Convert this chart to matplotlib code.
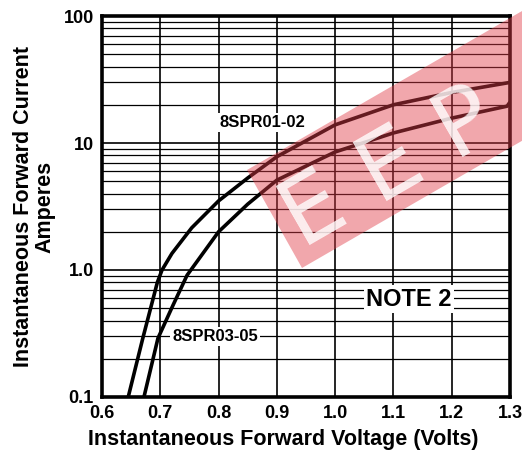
import matplotlib.pyplot as plt
from matplotlib.patches import Polygon

plt.rcParams['font.family'] = ['Liberation Sans', 'DejaVu Sans']
plt.rcParams['font.weight'] = 'bold'

# curve points
v_0102 = [0.645, 0.670, 0.695, 0.703, 0.720, 0.754, 0.800, 0.850, 0.900, 1.000, 1.100, 1.200, 1.300]
i_0102 = [0.1, 0.29, 0.8, 1.0, 1.35, 2.15, 3.5, 5.3, 7.8, 13.9, 20.0, 25.0, 30.0]

v_0305 = [0.672, 0.696, 0.722, 0.746, 0.800, 0.850, 0.900, 1.000, 1.100, 1.200, 1.295, 1.300]
i_0305 = [0.1, 0.29, 0.53, 0.91, 2.0, 3.3, 5.1, 8.5, 12.0, 15.7, 19.5, 21.0]

x_ticks = [0.6, 0.7, 0.8, 0.9, 1.0, 1.1, 1.2, 1.3]
x_labels = ['0.6', '0.7', '0.8', '0.9', '1.0', '1.1', '1.2', '1.3']
y_ticks = [0.1, 1, 10, 100]
y_labels = ['0.1', '1.0', '10', '100']

fig = plt.figure(figsize=(5.22, 4.55), dpi=100)
ax = fig.add_axes([0.1954, 0.1275, 0.7816, 0.8373])

ax.set_yscale('log')
ax.set_xlim(0.6, 1.3)
ax.set_ylim(0.1, 100)

ax.set_xticks(x_ticks)
ax.set_xticklabels(x_labels)
ax.set_yticks(y_ticks)
ax.set_yticklabels(y_labels)
ax.tick_params(length=0, labelsize=13, pad=6)
for lab in ax.get_xticklabels() + ax.get_yticklabels():
    lab.set_fontweight('bold')

ax.grid(True, which='major', color='black', linewidth=1.2)
ax.grid(True, which='minor', axis='y', color='black', linewidth=0.9)
ax.minorticks_on()
ax.xaxis.set_tick_params(which='minor', bottom=False)
ax.yaxis.set_tick_params(which='minor', left=False, labelleft=False)
ax.set_axisbelow(True)

for s in ax.spines.values():
    s.set_linewidth(2.6)

ax.plot(v_0102, i_0102, color='black', linewidth=2.6, solid_capstyle='butt')
ax.plot(v_0305, i_0305, color='black', linewidth=2.6, solid_capstyle='butt')

box = dict(facecolor='white', edgecolor='none', pad=1.5)
ax.text(0.8745, 14.4, '8SPR01-02', fontsize=12, fontweight='bold', ha='center', va='center', bbox=box)
ax.text(0.794, 0.30, '8SPR03-05', fontsize=12, fontweight='bold', ha='center', va='center', bbox=box)
ax.text(1.127, 0.59, 'NOTE 2', fontsize=17, fontweight='bold', ha='center', va='center', bbox=box)

ax.set_xlabel('Instantaneous Forward Voltage (Volts)', fontsize=15.5, fontweight='bold')
ax.xaxis.set_label_coords(0.444, -0.085)
ax.set_ylabel('Instantaneous Forward Current\nAmperes', fontsize=15.5, fontweight='bold', labelpad=6, linespacing=1.0)

# translucent red watermark band with light letters cut into it
W, H = 522, 455
def fp(x, y):
    return (x / W, 1 - y / H)
band = Polygon([fp(247, 170), fp(302, 268), fp(648, 68), fp(593, -30)], closed=True,
               transform=fig.transFigure, facecolor='#e03c48', alpha=0.45, edgecolor='none', zorder=10)
fig.patches.append(band)
wm_letters = ['E', 'E', 'P']
wm_centres = [(308, 200), (385, 156), (460, 112)]
for ch, (px, py) in zip(wm_letters, wm_centres):
    fx, fy = fp(px, py)
    fig.text(fx, fy, ch, fontsize=66, fontweight='normal', family='DejaVu Sans',
             color='white', alpha=0.8, rotation=30, rotation_mode='anchor',
             ha='center', va='center_baseline', zorder=11)

fig.savefig('out.png', dpi=100)
